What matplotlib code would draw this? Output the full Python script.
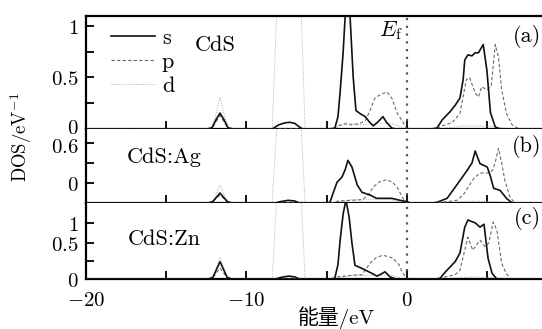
import matplotlib
matplotlib.use("Agg")
import matplotlib.pyplot as plt
import matplotlib.transforms as mtransforms
import numpy as np

plt.rcParams['mathtext.fontset'] = 'cm'
plt.rcParams['font.size'] = 16

# --- CdS (a) ---
e_a_s = [-20, -12.5, -12.15, -11.9, -11.65, -11.4, -11.15, -10.8, -8.4, -8.0, -7.6, -7.3, -7.0, -6.7, -6.5,
         -4.8, -4.49, -4.3, -4.17, -3.98, -3.85, -3.7, -3.55, -3.35, -3.18, -2.93, -2.6, -2.35, -2.1, -1.8,
         -1.5, -1.25, -0.95, -0.7, 0, 1.5, 1.87, 2.2, 2.7, 3.0, 3.3, 3.5, 3.6, 3.8, 4.05, 4.25, 4.45, 4.75,
         4.98, 5.2, 5.5, 5.8, 9]
a_s = [0, 0, 0.01, 0.09, 0.155, 0.09, 0.01, 0, 0, 0.04, 0.06, 0.065, 0.055, 0.02, 0,
       0, 0.01, 0.12, 0.35, 0.74, 1.1, 1.4, 1.1, 0.5, 0.18, 0.15, 0.12, 0.07, 0.03, 0.07,
       0.12, 0.06, 0.01, 0, 0, 0, 0.01, 0.09, 0.17, 0.23, 0.3, 0.48, 0.67, 0.72, 0.71, 0.74, 0.74, 0.82,
       0.57, 0.16, 0.02, 0, 0]
e_a_p = [-20, -12.4, -12.1, -11.65, -11.2, -10.9, -4.6, -4.3, -3.9, -3.5, -3.0, -2.6, -2.3, -2.0, -1.7,
         -1.25, -0.95, -0.6, -0.3, 0, 1.8, 2.2, 2.8, 3.3, 3.7, 3.9, 4.25, 4.45, 4.65, 5.0, 5.25, 5.5, 5.7,
         5.9, 6.2, 6.55, 7.0, 9]
a_p = [0, 0, 0.02, 0.13, 0.02, 0, 0, 0.03, 0.05, 0.04, 0.05, 0.08, 0.18, 0.3, 0.33,
       0.36, 0.3, 0.15, 0.08, 0, 0, 0.03, 0.06, 0.15, 0.48, 0.5, 0.35, 0.31, 0.41, 0.38, 0.42, 0.82, 0.7,
       0.38, 0.15, 0.04, 0, 0]
e_a_d = [-20, -12.3, -12.0, -11.65, -11.3, -11.0, -8.4, -8.1, -7.95, -7.3, -6.75, -6.6, -6.35,
         -4.5, -4.2, -3.7, -3.0, -2.0, -1.2, -0.5, -0.2, 2.0, 3.5, 4.5, 5.5, 6.5, 9]
a_d = [0, 0, 0.08, 0.31, 0.08, 0, 0, 1.2, 5.0, 7.0, 5.0, 1.2, 0,
       0, 0.03, 0.06, 0.04, 0.05, 0.06, 0.03, 0, 0, 0.03, 0.03, 0.02, 0, 0]

# --- CdS:Ag (b) ---
e_b_s = [-20, -12.4, -12.1, -11.65, -11.2, -10.9, -8.2, -7.9, -7.4, -7.0, -6.7, -5.0, -4.8, -4.6, -4.36,
         -4.05, -3.85, -3.68, -3.43, -3.1, -2.8, -2.3, -1.9, -1.37, -0.94, -0.43, 0, 0.2, 1.6, 1.87, 2.5,
         3.1, 3.75, 4.05, 4.25, 4.55, 5.0, 5.2, 5.4, 5.8, 6.2, 6.55, 9]
b_s = [0, 0, 0.02, 0.15, 0.02, 0, 0, 0.02, 0.04, 0.03, 0, 0, 0.01, 0.15, 0.31,
       0.39, 0.5, 0.64, 0.54, 0.27, 0.16, 0.12, 0.07, 0.07, 0.07, 0.04, 0.02, 0, 0, 0.01, 0.07,
       0.27, 0.49, 0.6, 0.78, 0.59, 0.54, 0.4, 0.22, 0.19, 0.07, 0, 0]
e_b_p = [-20, -12.4, -12.1, -11.65, -11.2, -10.9, -4.6, -4.3, -3.5, -2.8, -2.4, -2.1, -1.7, -1.25, -0.9,
         -0.62, -0.25, 0, 1.8, 2.5, 3.1, 3.5, 3.9, 4.2, 4.55, 5.15, 5.35, 5.5, 5.7, 5.9, 6.1, 6.4, 6.7, 9]
b_p = [0, 0, 0.02, 0.12, 0.02, 0, 0, 0.03, 0.04, 0.05, 0.12, 0.24, 0.32, 0.35, 0.31,
       0.24, 0.07, 0, 0, 0.02, 0.04, 0.12, 0.27, 0.38, 0.45, 0.45, 0.5, 0.61, 0.82, 0.6, 0.34, 0.1, 0, 0]
e_b_d = [-20, -12.3, -12.0, -11.65, -11.3, -11.0, -8.4, -8.1, -7.95, -7.3, -6.75, -6.6, -6.35,
         -4.5, -3.5, -2.0, -1.0, -0.2, 2.5, 4.0, 5.5, 6.5, 9]
b_d = [0, 0, 0.07, 0.27, 0.07, 0, 0, 1.2, 5.0, 7.0, 5.0, 1.2, 0,
       0, 0.05, 0.05, 0.05, 0, 0, 0.03, 0.02, 0, 0]

# --- CdS:Zn (c) ---
e_c_s = [-20, -12.4, -12.1, -11.65, -11.2, -10.9, -8.2, -7.9, -7.4, -7.0, -6.7, -4.8, -4.5, -4.3, -4.17,
         -3.98, -3.8, -3.6, -3.43, -3.24, -2.74, -2.2, -1.87, -1.6, -1.37, -1.06, -0.7, 0, 1.8, 2.06, 2.4,
         2.7, 3.0, 3.3, 3.6, 3.8, 4.0, 4.25, 4.55, 4.8, 5.05, 5.3, 5.6, 9]
c_s = [0, 0, 0.02, 0.24, 0.02, 0, 0, 0.02, 0.04, 0.03, 0, 0, 0.01, 0.2, 0.53,
       0.9, 1.1, 0.85, 0.5, 0.19, 0.14, 0.08, 0.04, 0.07, 0.1, 0.03, 0, 0, 0, 0.01, 0.1,
       0.17, 0.24, 0.36, 0.72, 0.82, 0.8, 0.78, 0.72, 0.76, 0.29, 0.08, 0, 0]
e_c_p = [-20, -12.4, -12.1, -11.65, -11.2, -10.9, -4.6, -4.3, -3.5, -2.8, -2.3, -1.9, -1.5, -0.87, -0.5,
         -0.3, 0, 1.8, 2.4, 3.0, 3.3, 3.6, 3.8, 4.1, 4.55, 4.85, 5.1, 5.37, 5.6, 5.9, 6.2, 6.5, 9]
c_p = [0, 0, 0.02, 0.15, 0.02, 0, 0, 0.03, 0.05, 0.06, 0.22, 0.3, 0.33, 0.29, 0.2,
       0.1, 0, 0, 0.03, 0.06, 0.12, 0.4, 0.58, 0.4, 0.54, 0.45, 0.5, 0.79, 0.68, 0.22, 0.07, 0, 0]
e_c_d = [-20, -12.3, -12.0, -11.65, -11.3, -11.0, -8.4, -8.1, -7.95, -7.3, -6.75, -6.6, -6.35,
         -4.5, -3.5, -2.0, -1.0, -0.2, 2.5, 4.0, 5.5, 6.5, 9]
c_d = [0, 0, 0.08, 0.3, 0.08, 0, 0, 1.2, 5.0, 7.0, 5.0, 1.2, 0,
       0, 0.05, 0.05, 0.05, 0, 0, 0.03, 0.02, 0, 0]

names = ['CdS', 'CdS:Ag', 'CdS:Zn']
tags = ['(a)', '(b)', '(c)']
ytick_pos = [[0, 0.25, 0.5, 0.75, 1.0], [0.3, 0.6, 0.9], [0, 0.25, 0.5, 0.78]]
ytick_lab = [['0', '', '0.5', '', '1'], ['0', '', '0.6'], ['0', '', '0.5', '1']]
ytop = [1.097, 1.11, 1.055]
xtick_pos = [-20, -15, -10, -5, 0, 5]
xtick_lab = ['-20', '', '-10', '', '0', '']

curves = [
    [(e_a_s, a_s), (e_a_p, a_p), (e_a_d, a_d)],
    [(e_b_s, b_s), (e_b_p, b_p), (e_b_d, b_d)],
    [(e_c_s, c_s), (e_c_p, c_p), (e_c_d, c_d)],
]

fig = plt.figure(figsize=(5.42, 3.29), dpi=100)
W, H = 542.0, 329.0
x0, x1 = 86, 545
rows = [(16, 129), (129, 203), (203, 279)]
cm = 'cmr10'
fs = 16
tfs = 15

axes = []
for i, (top, bot) in enumerate(rows):
    ax = fig.add_axes([x0 / W, 1 - bot / H, (x1 - x0) / W, (bot - top) / H])
    (es, s), (ep, p), (ed, d) = curves[i]
    ax.plot(ed, d, color='#ababab', lw=0.7, ls=(0, (1, 1.5)), label='d', zorder=2)
    ax.plot(ep, p, color='#6a6a6a', lw=0.8, ls=(0, (3, 2)), label='p', zorder=3)
    ax.plot(es, s, color='#111111', lw=1.2, label='s', zorder=4)
    ax.axvline(0, color='#555555', lw=1.6, ls=(0, (1, 2.5)), zorder=1)

    ax.set_xlim(-20, 8.6)
    ax.set_ylim(0, ytop[i])
    ax.set_yticks(ytick_pos[i])
    ax.set_yticklabels(['$%s$' % t if t else '' for t in ytick_lab[i]])
    ax.set_xticks(xtick_pos)
    if i == 2:
        ax.set_xticklabels(['$%s$' % t if t else '' for t in xtick_lab])
    else:
        ax.set_xticklabels([])
    ax.tick_params(direction='in', length=6, width=1.3, top=False, right=False,
                   labelsize=tfs, pad=5)
    ax.tick_params(axis='x', pad=8)
    for sp in ax.spines.values():
        sp.set_linewidth(1.6)
    ax.spines['right'].set_visible(False)
    if i > 0:
        ax.spines['top'].set_visible(False)
    axes.append(ax)

# nudge the two crowded labels at the (a)/(b) seam apart
up = mtransforms.ScaledTranslation(0, 3 / 100, fig.dpi_scale_trans)
down = mtransforms.ScaledTranslation(0, -2 / 100, fig.dpi_scale_trans)
lab = axes[0].yaxis.get_major_ticks()[0].label1
lab.set_transform(lab.get_transform() + up)
lab = axes[1].yaxis.get_major_ticks()[2].label1
lab.set_transform(lab.get_transform() + down)

# panel tags, sample names (figure pixel positions)
tag_y = [37, 147, 218]
for i in range(3):
    fig.text(541 / W, 1 - tag_y[i] / H, tags[i], ha='right', va='center', fontsize=fs, family=cm)
fig.text(195 / W, 1 - 45 / H, names[0], fontsize=fs, family=cm, va='center')
fig.text(127 / W, 1 - 157 / H, names[1], fontsize=fs, family=cm, va='center')
fig.text(128 / W, 1 - 239 / H, names[2], fontsize=fs, family=cm, va='center')

# Fermi level label
fig.text(391 / W, 1 - 31 / H, r'$E_{\mathrm{f}}$', fontsize=fs, ha='center', va='center')

handles, labels = axes[0].get_legend_handles_labels()
order = [2, 1, 0]
axes[0].legend([handles[k] for k in order], [labels[k] for k in order], loc='upper left',
               bbox_to_anchor=(0.02, 1.03), frameon=False, handlelength=2.0, handletextpad=0.3,
               labelspacing=0.2, borderpad=0.2, prop={'family': cm, 'size': fs})

fig.text(21 / W, 1 - 137 / H, r'$\mathrm{DOS/eV}^{-1}$', rotation=90, ha='center', va='center',
         fontsize=13.5)
fig.text(336 / W, 1 - 318 / H, '能量/eV', ha='center', va='center', fontsize=15,
         family=['cmr10', 'Noto Sans CJK SC'])

fig.savefig('out.png', dpi=100)
